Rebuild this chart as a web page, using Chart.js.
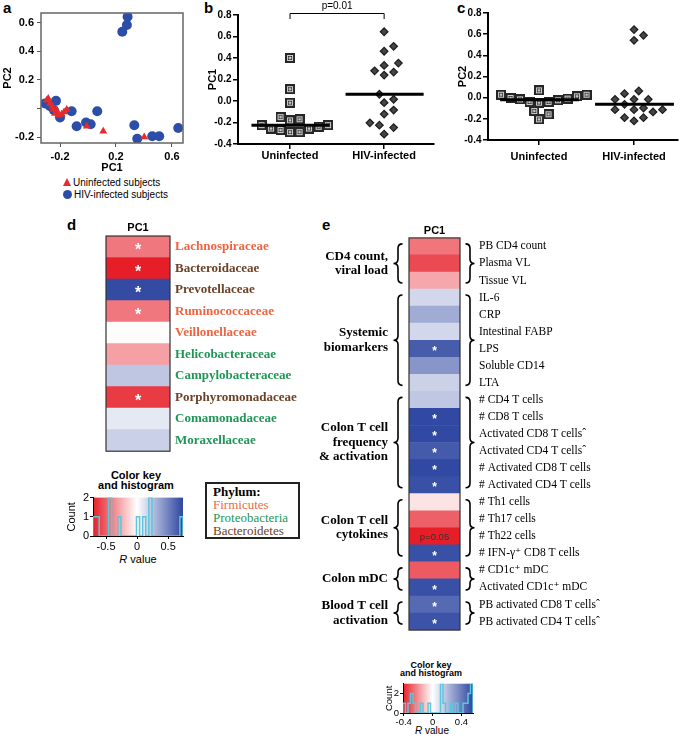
<!DOCTYPE html>
<html>
<head>
<meta charset="utf-8">
<title>PCA of gut microbiota and PC1 correlations</title>
<script src="https://cdn.jsdelivr.net/npm/chart.js@4.4.1/dist/chart.umd.min.js"></script>
<style>
  body { margin: 0; background: #fff; }
  #fig { position: relative; width: 685px; height: 739px; overflow: hidden; font-family: 'Liberation Sans', Arial, sans-serif; color: #000; }
  #fig canvas, .t { position: absolute; }
  .t { white-space: nowrap; }
  .letter { font-size: 15px; font-weight: bold; line-height: 15px; }
  .leg { font-size: 10px; line-height: 11px; }
  .tri { display: inline-block; width: 0; height: 0; border-left: 4.5px solid transparent; border-right: 4.5px solid transparent; border-bottom: 8px solid #e52b2b; margin-right: 2px; }
  .dot { display: inline-block; width: 9px; height: 9px; border-radius: 50%; background: #2c4ea6; margin-right: 2px; vertical-align: -1px; }
  .keytitle { font-weight: bold; text-align: center; }
  .rv { text-align: center; }
  #phylum { left: 205px; top: 482px; width: 85px; height: 52px; border: 2px solid #222; padding: 1px 0 0 6px; font: 13px/13px 'Liberation Serif', serif; }
</style>
</head>
<body>
<div id="fig">
  <div class="t letter" style="left:3px;top:0px">a</div>
  <div class="t letter" style="left:204px;top:0px">b</div>
  <div class="t letter" style="left:457px;top:0px">c</div>
  <div class="t letter" style="left:67px;top:217px">d</div>
  <div class="t letter" style="left:322px;top:217px">e</div>

  <div class="t leg" style="left:63px;top:177px"><i class="tri"></i>Uninfected subjects</div>
  <div class="t leg" style="left:63px;top:189px"><i class="dot"></i>HIV-infected subjects</div>

  <div class="t keytitle" style="left:76px;top:470px;width:120px;font-size:11px;line-height:10px">Color key<br>and histogram</div>
  <div class="t rv" style="left:98px;top:553px;width:80px;font-size:11px;line-height:13px"><i>R</i> value</div>

  <div class="t" id="phylum"><b>Phylum:</b><br><span style="color:#ee6a45">Firmicutes</span><br><span style="color:#1f9656">Proteobacteria</span><br><span style="color:#6b4226">Bacteroidetes</span></div>

  <div class="t keytitle" style="left:381px;top:662px;width:100px;font-size:9px;line-height:7.5px">Color key<br>and histogram</div>
  <div class="t rv" style="left:397px;top:725px;width:70px;font-size:10px;line-height:12px"><i>R</i> value</div>
</div>

<script>
// ---------- data ----------
const groups = ['Uninfected', 'HIV-infected'];

// a: PCA scores
const aUninfPC1 = [-0.295, -0.284, -0.271, -0.255, -0.248, -0.236, -0.224, -0.212, -0.188, -0.171, -0.152, -0.009, 0.109, 0.402];
const aUninfPC2 = [0.057, 0.069, 0.034, 0.015, -0.008, -0.036, -0.013, -0.048, -0.041, -0.025, -0.008, -0.125, -0.160, -0.200];
const aHivPC1 = [0.283, 0.278, 0.245, -0.307, -0.271, -0.229, -0.243, -0.200, -0.117, -0.081, -0.014, 0.019, 0.066, 0.331, 0.352, 0.459, 0.509, 0.645];
const aHivPC2 = [0.642, 0.584, 0.537, 0.034, 0.015, 0.053, -0.013, -0.064, -0.020, -0.125, -0.099, -0.111, -0.020, -0.118, -0.212, -0.195, -0.195, -0.137];
const aXTicks = [-0.2, 0.2, 0.6];
const aYTicks = [-0.2, 0, 0.2, 0.4, 0.6];

// b: PC1 by group, c: PC2 by group
const bUninf = [0.40, 0.11, -0.016, -0.17, -0.18, -0.15, -0.225, -0.256, -0.27, -0.29, -0.29, -0.256, -0.24, -0.225];
const bHiv = [0.644, 0.509, 0.463, 0.331, 0.353, 0.269, 0.241, 0.281, 0.063, 0.016, -0.016, -0.084, -0.122, -0.225, -0.247, -0.203, -0.309];
const cUninf = [0.028, 0.013, -0.009, -0.025, -0.041, -0.047, -0.041, -0.016, -0.003, 0.028, 0.069, -0.126, -0.205, -0.157];
const cHiv = [0.589, 0.542, 0.643, 0.038, 0.063, -0.016, -0.113, -0.113, -0.063, -0.098, -0.016, -0.016, -0.113, -0.135, -0.189, -0.220, -0.189];
const pcYTicks = [-0.4, -0.2, 0, 0.2, 0.4, 0.6, 0.8];
const bPText = 'p=0.01';

// d: bacterial families vs PC1
const families = ['Lachnospiraceae', 'Bacteroidaceae', 'Prevotellaceae', 'Ruminococcaceae', 'Veillonellaceae',
  'Helicobacteraceae', 'Campylobacteraceae', 'Porphyromonadaceae', 'Comamonadaceae', 'Moraxellaceae'];
const familyPhylum = [0, 2, 2, 0, 0, 1, 1, 2, 1, 1];   // index into phyla
const familyR = [-0.43, -0.71, 0.72, -0.43, -0.01, -0.30, 0.23, -0.62, 0.09, 0.19];
const familySig = [1, 1, 1, 1, 0, 0, 0, 1, 0, 0];
const phyla = ['Firmicutes', 'Proteobacteria', 'Bacteroidetes'];
const dKeyTicks = [-0.5, 0, 0.5];
const dCountTicks = [0, 1, 2];

// e: clinical / immune markers vs PC1
const markers = ['PB CD4 count', 'Plasma VL', 'Tissue VL', 'IL-6', 'CRP', 'Intestinal FABP', 'LPS', 'Soluble CD14', 'LTA',
  '# CD4 T cells', '# CD8 T cells', 'Activated CD8 T cells\u02C6', 'Activated CD4 T cells\u02C6',
  '# Activated CD8 T cells', '# Activated CD4 T cells', '# Th1 cells', '# Th17 cells', '# Th22 cells',
  '# IFN-\u03B3\u207A CD8 T cells', '# CD1c\u207A mDC', 'Activated CD1c\u207A mDC',
  'PB activated CD8 T cells\u02C6', 'PB activated CD4 T cells\u02C6'];
const markerR = [-0.25, -0.33, -0.16, 0.12, 0.25, 0.12, 0.49, 0.32, 0.14, 0.17, 0.55, 0.55, 0.50, 0.55, 0.53,
  -0.05, -0.29, -0.41, 0.53, -0.30, 0.53, 0.45, 0.52];
const markerNote = ['', '', '', '', '', '', '*', '', '', '', '*', '*', '*', '*', '*', '', '', 'p=0.05', '*', '', '*', '*', '*'];
const markerGroups = [['CD4 count,', 'viral load'], ['Systemic', 'biomarkers'], ['Colon T cell', 'frequency', '& activation'],
  ['Colon T cell', 'cytokines'], ['Colon mDC'], ['Blood T cell', 'activation']];
const groupFirst = [0, 3, 9, 15, 19, 21];
const groupLast = [2, 8, 14, 18, 20, 22];
const eKeyTicks = [-0.4, 0, 0.4];
const eCountTicks = [0, 1, 2, 3];

// ---------- helpers ----------
Chart.defaults.font.family = "'Liberation Sans', Arial, sans-serif";
Chart.defaults.color = '#000';
Chart.defaults.animation = false;
Chart.defaults.responsive = false;
Chart.defaults.plugins.legend.display = false;
Chart.defaults.plugins.tooltip.enabled = false;

const SERIF = "'Liberation Serif', 'DejaVu Serif', serif";
const PT_BLUE = '#2c4ea6', PT_RED = '#e52b2b';
const phylumColour = ['#ee6440', '#1f9656', '#6b4226'];
const RED = [230, 30, 40], BLUE = [45, 70, 160];

function mk(left, top, w, h) {
  const c = document.createElement('canvas');
  c.width = w; c.height = h;
  c.style.left = left + 'px'; c.style.top = top + 'px';
  document.getElementById('fig').appendChild(c);
  return c;
}

function fixedTicks(values) {
  return scale => { scale.ticks = values.map(v => ({value: v})); };
}

function rColour(r, lo, hi) {
  const t = Math.min(1, r < 0 ? r / lo : r / hi);
  const c = r < 0 ? RED : BLUE;
  return 'rgb(' + c.map(v => Math.round(255 + (v - 255) * t)).join(',') + ')';
}

function median(vals) {
  const s = vals.slice().sort((a, b) => a - b), m = s.length >> 1;
  return s.length % 2 ? s[m] : (s[m - 1] + s[m]) / 2;
}

// simple beeswarm: horizontal offsets (in category units) so markers don't overlap
function swarm(vals, unitPx, catPx, size) {
  const idx = vals.map((v, i) => i).sort((i, j) => vals[i] - vals[j]);
  const placed = [], off = [];
  idx.forEach(i => {
    const py = vals[i] * unitPx;
    for (let k = 0; ; k++) {
      const px = (k % 2 ? 1 : -1) * Math.ceil(k / 2) * size / 2;
      if (placed.every(p => Math.hypot(p.x - px, p.y - py) >= size)) {
        placed.push({x: px, y: py});
        off[i] = px / catPx;
        break;
      }
    }
  });
  return off;
}

function histSteps(vals, lo, hi, nBins) {
  const w = (hi - lo) / nBins;
  const counts = [];
  for (let k = 0; k < nBins; k++) counts.push(0);
  vals.forEach(v => {
    const k = Math.max(0, Math.min(nBins - 1, Math.floor((v - lo) / w)));
    counts[k]++;
  });
  const pts = [{x: lo, y: 0}];
  counts.forEach((c, k) => pts.push({x: lo + k * w, y: c}));
  pts.push({x: hi, y: counts[nBins - 1]}, {x: hi, y: 0});
  return pts;
}

function squareMark() {
  const c = document.createElement('canvas');
  c.width = c.height = 10;
  const g = c.getContext('2d');
  g.fillStyle = '#262626'; g.fillRect(0, 0, 10, 10);
  g.strokeStyle = '#cfcfcf'; g.lineWidth = 1; g.strokeRect(2.5, 2.5, 5, 5);
  g.fillStyle = '#fff'; g.fillRect(4.5, 3.5, 1, 3); g.fillRect(3.5, 4.5, 3, 1);
  return c;
}
const SQUARE = squareMark();

// ---------- plugins ----------
const frame = {
  id: 'frame',
  afterDraw(chart, args, o) {
    const {ctx, chartArea: a} = chart;
    ctx.save();
    ctx.strokeStyle = o.color; ctx.lineWidth = o.width;
    ctx.strokeRect(a.left, a.top, a.width, a.height);
    ctx.restore();
  }
};

const pBracket = {
  id: 'pBracket',
  afterDraw(chart, args, o) {
    const {ctx, scales: {x}} = chart;
    const x1 = x.getPixelForValue(1), x2 = x.getPixelForValue(2);
    ctx.save();
    ctx.strokeStyle = '#000'; ctx.lineWidth = 1;
    ctx.beginPath();
    ctx.moveTo(x1, 19); ctx.lineTo(x1, 13.5); ctx.lineTo(x2, 13.5); ctx.lineTo(x2, 19);
    ctx.stroke();
    ctx.font = "10px 'Liberation Sans', Arial, sans-serif";
    ctx.fillStyle = '#000'; ctx.textAlign = 'center'; ctx.textBaseline = 'middle';
    ctx.fillText(o.text, (x1 + x2) / 2, 6.5);
    ctx.restore();
  }
};

const cellNotes = {
  id: 'cellNotes',
  afterDatasetsDraw(chart, args, o) {
    const {ctx, chartArea: a, scales: {y}} = chart;
    const cx = (a.left + a.right) / 2;
    ctx.save();
    ctx.textAlign = 'center'; ctx.textBaseline = 'middle';
    o.notes.forEach((n, i) => {
      if (!n) return;
      const py = y.getPixelForValue(i);
      if (n === '*') {
        ctx.font = o.starFont; ctx.fillStyle = '#fff';
        ctx.fillText('*', cx, py + o.starShift);
      } else {
        ctx.font = "9.5px 'Liberation Sans', Arial, sans-serif"; ctx.fillStyle = '#333';
        ctx.fillText(n, cx, py + 1);
      }
    });
    ctx.restore();
  }
};

function curly(ctx, sx, y0, y1, d) {
  const w = 4.5, ym = (y0 + y1) / 2;
  ctx.beginPath();
  ctx.moveTo(sx - d * w, y0);
  ctx.quadraticCurveTo(sx, y0, sx, y0 + w);
  ctx.lineTo(sx, ym - w);
  ctx.quadraticCurveTo(sx, ym, sx + d * w, ym);
  ctx.quadraticCurveTo(sx, ym, sx, ym + w);
  ctx.lineTo(sx, y1 - w);
  ctx.quadraticCurveTo(sx, y1, sx - d * w, y1);
  ctx.stroke();
}

const braces = {
  id: 'braces',
  afterDraw(chart, args, o) {
    const {ctx, chartArea: a, scales: {y}} = chart;
    const half = (y.getPixelForValue(1) - y.getPixelForValue(0)) / 2;
    ctx.save();
    ctx.strokeStyle = '#000'; ctx.lineWidth = 1.6; ctx.fillStyle = '#000';
    ctx.font = 'bold 13px ' + SERIF;
    ctx.textAlign = 'right'; ctx.textBaseline = 'middle';
    o.names.forEach((lines, k) => {
      const y0 = y.getPixelForValue(o.first[k]) - half + 6;
      const y1 = y.getPixelForValue(o.last[k]) + half - 6;
      curly(ctx, a.left - 11, y0, y1, -1);
      curly(ctx, a.right + 10, y0, y1, 1);
      const mid = (y0 + y1) / 2;
      lines.forEach((t, j) => ctx.fillText(t, a.left - 21, mid + (j - (lines.length - 1) / 2) * 14.5));
    });
    ctx.restore();
  }
};

const keyBackground = {
  id: 'keyBackground',
  beforeDraw(chart, args, o) {
    const {ctx, chartArea: a} = chart;
    const g = ctx.createLinearGradient(a.left, 0, a.right, 0);
    g.addColorStop(0, rColour(o.lo, o.lo, o.hi));
    g.addColorStop(-o.lo / (o.hi - o.lo), '#fff');
    g.addColorStop(1, rColour(o.hi, o.lo, o.hi));
    ctx.save();
    ctx.fillStyle = g;
    ctx.fillRect(a.left, a.top, a.width, a.height);
    ctx.restore();
  }
};

// ---------- a: PCA scatter ----------
const tickFont = {size: 11, weight: 'bold'};
new Chart(mk(0, 0, 235, 175), {
  type: 'scatter',
  data: {
    datasets: [
      {label: 'Uninfected subjects', data: aUninfPC1.map((x, i) => ({x, y: aUninfPC2[i]})),
        pointStyle: 'triangle', pointRadius: 4.5, backgroundColor: PT_RED, borderWidth: 0},
      {label: 'HIV-infected subjects', data: aHivPC1.map((x, i) => ({x, y: aHivPC2[i]})),
        pointStyle: 'circle', pointRadius: 5, backgroundColor: PT_BLUE, borderWidth: 0}
    ]
  },
  options: {
    layout: {padding: {top: 13, right: 52}},
    scales: {
      x: {
        type: 'linear', min: -0.336, max: 0.679,
        afterBuildTicks: fixedTicks(aXTicks), afterFit: s => { s.height = 32; },
        ticks: {font: tickFont, padding: 3, maxRotation: 0, callback: v => v.toFixed(1)},
        grid: {drawOnChartArea: false, tickLength: 4, color: '#555'},
        border: {display: false},
        title: {display: true, text: 'PC1', font: tickFont, padding: {top: 0, bottom: 0.5}}
      },
      y: {
        min: -0.242, max: 0.668,
        afterBuildTicks: fixedTicks(aYTicks), afterFit: s => { s.width = 41; },
        ticks: {font: tickFont, padding: 3, callback: v => v === 0 ? '' : v.toFixed(1)},
        grid: {drawOnChartArea: false, tickLength: 4, color: '#555'},
        border: {display: false},
        title: {display: true, text: 'PC2', font: tickFont, padding: {top: 1.5, bottom: 0}}
      }
    },
    plugins: {frame: {color: '#666', width: 1.5}}
  },
  plugins: [frame]
});

// ---------- b, c: dot plots ----------
function dotPlot(canvas, uninf, hiv, cfg) {
  const uOff = swarm(uninf, cfg.unitPx, cfg.catPx, 9.5);
  const hOff = swarm(hiv, cfg.unitPx, cfg.catPx, 9.5);
  const medLine = (vals, c) => [{x: c - 0.41, y: median(vals)}, {x: c + 0.42, y: median(vals)}];
  const axisGrid = {drawOnChartArea: false, tickLength: 5, color: '#000', lineWidth: 1.5};
  return new Chart(canvas, {
    type: 'scatter',
    data: {
      datasets: [
        {type: 'line', data: medLine(uninf, 1), borderColor: '#000', borderWidth: 3, pointRadius: 0},
        {type: 'line', data: medLine(hiv, 2), borderColor: '#000', borderWidth: 3, pointRadius: 0},
        {data: uninf.map((y, i) => ({x: 1 + uOff[i], y})), pointStyle: SQUARE, pointRadius: 5},
        {data: hiv.map((y, i) => ({x: 2 + hOff[i], y})), pointStyle: 'rectRot', pointRadius: 3.8,
          backgroundColor: '#454545', borderColor: '#1c1c1c', borderWidth: 1.2}
      ]
    },
    options: {
      layout: {padding: cfg.padding},
      scales: {
        x: {
          type: 'linear', min: cfg.xMin, max: cfg.xMax,
          afterBuildTicks: fixedTicks([1, 2]), afterFit: s => { s.height = cfg.xH; },
          ticks: {font: tickFont, padding: cfg.xPad, maxRotation: 0, callback: v => groups[v - 1]},
          grid: axisGrid, border: {color: '#000', width: 2}
        },
        y: {
          min: -0.4, max: 0.8,
          afterBuildTicks: fixedTicks(pcYTicks), afterFit: s => { s.width = cfg.yW; },
          ticks: {font: {size: 10, weight: 'bold'}, padding: 1.5, callback: v => v.toFixed(1)},
          grid: axisGrid, border: {color: '#000', width: 2},
          title: {display: true, text: cfg.yTitle, font: tickFont, padding: {top: cfg.yTitlePad, bottom: 0}}
        }
      },
      plugins: {pBracket: {text: cfg.pText}}
    },
    plugins: cfg.pText ? [pBracket] : []
  });
}

dotPlot(mk(198, 0, 247, 175), bUninf, bHiv, {
  unitPx: 107.5, catPx: 94, padding: {top: 15, right: 11},
  xMin: 0.447, xMax: 2.53, xH: 31, xPad: 0.5, yW: 40, yTitle: 'PC1', yTitlePad: 8.5, pText: bPText
});
dotPlot(mk(445, 0, 240, 175), cUninf, cHiv, {
  unitPx: 105.7, catPx: 95, padding: {top: 13, right: 7},
  xMin: 0.463, xMax: 2.463, xH: 35, xPad: 5, yW: 43, yTitle: 'PC2', yTitlePad: 11, pText: ''
});

// ---------- d, e: heatmaps ----------
function heatmap(canvas, labels, rValues, notes, cfg) {
  return new Chart(canvas, {
    type: 'bar',
    data: {
      labels,
      datasets: [{
        data: labels.map(() => 1),
        backgroundColor: rValues.map(r => rColour(r, cfg.lo, cfg.hi)),
        barPercentage: 1, categoryPercentage: 1, borderWidth: 0
      }]
    },
    options: {
      indexAxis: 'y',
      layout: {padding: cfg.padding},
      scales: {
        x: {
          position: 'top', min: 0, max: 1,
          afterFit: s => { s.height = cfg.titleH; },
          ticks: {display: false}, grid: {display: false}, border: {display: false},
          title: {display: true, text: 'PC1', font: {size: 11, weight: 'bold'}, padding: {top: 9.4, bottom: 0}}
        },
        y: {
          position: 'right',
          afterFit: s => { s.width = cfg.labelW; },
          ticks: {autoSkip: false, padding: cfg.labelPad, font: cfg.labelFont, color: cfg.labelColour},
          grid: {display: false, drawTicks: false}, border: {display: false}
        }
      },
      plugins: {
        cellNotes: {notes, starFont: cfg.starFont, starShift: cfg.starShift},
        frame: {color: '#333', width: 1.2},
        braces: cfg.braces || {}
      }
    },
    plugins: [cellNotes, frame].concat(cfg.braces ? [braces] : [])
  });
}

heatmap(mk(60, 212, 270, 252), families, familyR, familySig.map(s => s ? '*' : ''), {
  lo: -0.71, hi: 0.74, padding: {left: 46, bottom: 2}, titleH: 24, labelW: 160, labelPad: 5,
  labelFont: {family: SERIF, size: 13, weight: 'bold'},
  labelColour: ctx => phylumColour[familyPhylum[ctx.index]],
  starFont: "bold 16px 'Liberation Sans', Arial, sans-serif", starShift: 4
});

heatmap(mk(300, 212, 385, 444), markers, markerR, markerNote, {
  lo: -0.41, hi: 0.56, padding: {left: 109, bottom: 2}, titleH: 23, labelW: 225, labelPad: 19,
  labelFont: {family: SERIF, size: 11.5}, labelColour: '#000',
  starFont: "bold 12px 'Liberation Sans', Arial, sans-serif", starShift: 3,
  braces: {names: markerGroups, first: groupFirst, last: groupLast}
});

// ---------- colour keys with histograms ----------
function colourKey(canvas, rValues, cfg) {
  const g = {drawOnChartArea: false, tickLength: 3, color: '#000'};
  return new Chart(canvas, {
    type: 'line',
    data: {
      datasets: [{
        data: histSteps(rValues, cfg.lo, cfg.hi, cfg.bins), stepped: true,
        borderColor: '#5cc6dc', borderWidth: 1.5, pointRadius: 0, fill: false
      }]
    },
    options: {
      layout: {padding: cfg.padding},
      scales: {
        x: {
          type: 'linear', min: cfg.lo, max: cfg.hi,
          afterBuildTicks: fixedTicks(cfg.xTicks), afterFit: s => { s.height = cfg.xH; },
          ticks: {font: {size: cfg.fs}, padding: 1, maxRotation: 0, callback: v => v === 0 ? '0' : v.toFixed(1)},
          grid: g, border: {color: '#000', width: 1}
        },
        y: {
          min: 0, max: cfg.yTicks[cfg.yTicks.length - 1],
          afterBuildTicks: fixedTicks(cfg.yTicks), afterFit: s => { s.width = cfg.yW; },
          ticks: {font: {size: cfg.fs}, padding: 1},
          grid: g, border: {color: '#000', width: 1},
          title: {display: true, text: 'Count', font: {size: cfg.fs}, padding: {top: cfg.countPad, bottom: 0}}
        }
      },
      plugins: {keyBackground: {lo: cfg.lo, hi: cfg.hi}}
    },
    plugins: [keyBackground]
  });
}

colourKey(mk(48, 490, 142, 64), familyR, {
  lo: -0.71, hi: 0.74, bins: 29, xTicks: dKeyTicks, yTicks: dCountTicks,
  padding: {top: 6, right: 7}, xH: 18, yW: 45, fs: 11, countPad: 17
});
colourKey(mk(368, 677, 112, 53), markerR, {
  lo: -0.41, hi: 0.56, bins: 28, xTicks: eKeyTicks, yTicks: eCountTicks,
  padding: {top: 6, right: 7}, xH: 17, yW: 35, fs: 9.5, countPad: 16
});
</script>
</body>
</html>
